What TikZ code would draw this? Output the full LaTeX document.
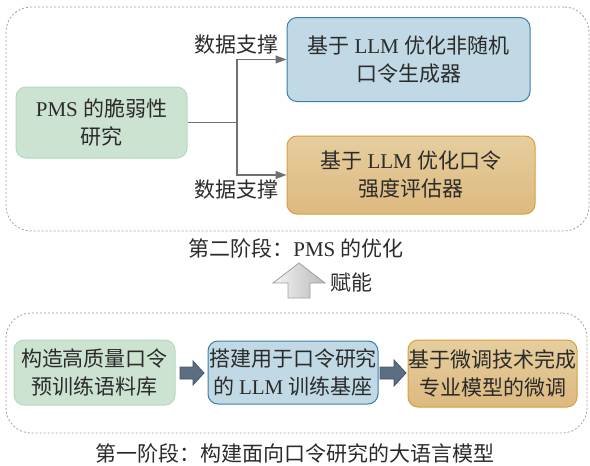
\documentclass[tikz,border=0pt]{standalone}
\usepackage{fontspec}
\setmainfont{Noto Sans CJK SC}
\newfontfamily\latfont{Liberation Serif}
\newcommand\lt[1]{{\latfont #1}}
\usetikzlibrary{arrows.meta}
\definecolor{txt}{HTML}{2B2B2B}
\definecolor{gfill}{HTML}{CDE3D1}
\definecolor{gline}{HTML}{B3DABD}
\definecolor{bfill}{HTML}{C0D9E4}
\definecolor{bline}{HTML}{3B7EA6}
\definecolor{otop}{HTML}{E6CE9E}
\definecolor{obot}{HTML}{DDB97F}
\definecolor{oline}{HTML}{D89E3E}
\definecolor{dash}{HTML}{A0A0A0}
\definecolor{conn}{HTML}{707070}
\definecolor{dfill}{HTML}{5C6F82}
\definecolor{dline}{HTML}{44546A}
\begin{document}
\begin{tikzpicture}[x=1pt,y=-1pt,
  font=\fontsize{21}{28}\selectfont, text=txt,
  box/.style={rounded corners=10pt, align=center, inner sep=0pt, line width=1pt},
  gbox/.style={box, fill=gfill, draw=gline},
  bbox/.style={box, fill=bfill, draw=bline},
  obox/.style={box, top color=otop, bottom color=obot, draw=oline},
  frame/.style={draw=dash, dash pattern=on 2pt off 2pt, line width=0.8pt, rounded corners=25pt, inner sep=0pt},
  conline/.style={draw=conn, line width=1.3pt},
  fat/.style={fill=dfill, draw=dline, line width=0.8pt},
  lbl/.style={inner sep=0pt}]
\useasboundingbox (0,0) rectangle (590,466);

% frames
\node[frame, minimum width=583pt, minimum height=224pt] (stage2) at (297.5,119) {};
\node[frame, minimum width=581pt, minimum height=120pt] (stage1) at (296.5,373) {};

% stage 2 boxes
\node[gbox, minimum width=171pt, minimum height=71pt] (pms) at (101.5,122.5) {\lt{PMS }的脆弱性\\研究};
\node[bbox, minimum width=243pt, minimum height=84pt] (gen) at (408.5,59.5) {基于 \lt{LLM }优化非随机\\口令生成器};
\node[obox, minimum width=248pt, minimum height=78pt] (est) at (411,175) {基于 \lt{LLM }优化口令\\强度评估器};

% connectors
\coordinate (j) at (237,122.5);
\draw[conline] (pms.east) -- (j);
\draw[conline, -{Triangle[length=11pt,width=8pt]}] (j) |- (gen.west);
\draw[conline, -{Triangle[length=11pt,width=8pt]}] (j) |- (est.west);
\node[lbl] (l1) at (236,45) {数据支撑};
\node[lbl] (l2) at (236,190) {数据支撑};

% stage labels
\node[lbl] (t2) at (296,248) {第二阶段：\lt{PMS }的优化};
\node[lbl] (t1) at (295,453) {第一阶段：构建面向口令研究的大语言模型};

% up arrow
\path[draw=gray!75, line width=0.8pt, left color=gray!8, right color=gray!55]
  (288,298) -- (288,283) -- (273,283) -- (299,263) -- (325,283) -- (310,283) -- (310,298) -- cycle;
\node[lbl] (fn) at (351,282) {赋能};

% stage 1 boxes
\node[gbox, minimum width=161pt, minimum height=65pt] (corp) at (94.5,372.5) {构造高质量口令\\预训练语料库};
\node[bbox, minimum width=170pt, minimum height=63pt] (base) at (293,372.5) {搭建用于口令研究\\的 \lt{LLM }训练基座};
\node[obox, minimum width=169pt, minimum height=67pt] (ft) at (492.5,373.5) {基于微调技术完成\\专业模型的微调};

% fat arrows
\path[fat] (180,367) -- (193,367) -- (193,361) -- (204,373) -- (193,385) -- (193,379) -- (180,379) -- cycle;
\path[fat] (380,367) -- (394,367) -- (394,360) -- (406,373) -- (394,386) -- (394,379) -- (380,379) -- cycle;
\end{tikzpicture}
\end{document}
